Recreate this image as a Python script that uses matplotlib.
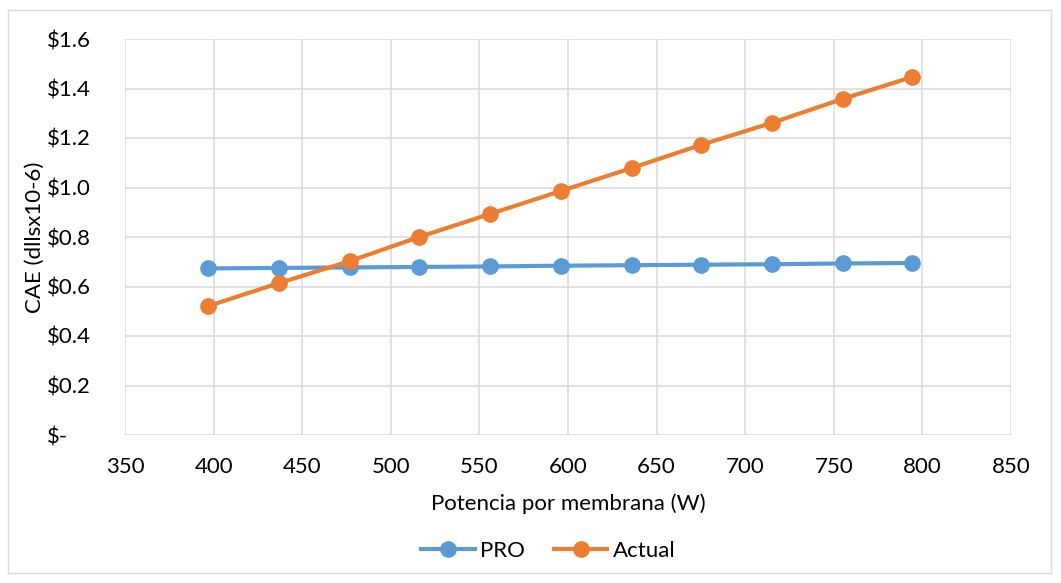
from matplotlib import pyplot as plt
from matplotlib.ticker import FuncFormatter
from matplotlib.patches import Rectangle

# datos
potencia = [397, 437, 477, 516, 556, 596, 636, 675, 715, 755, 794]
pro = [0.673, 0.675, 0.677, 0.679, 0.681, 0.684, 0.686, 0.688, 0.690, 0.693, 0.695]
actual = [0.521, 0.614, 0.703, 0.800, 0.893, 0.986, 1.079, 1.172, 1.261, 1.358, 1.446]
x_ticks = [350, 400, 450, 500, 550, 600, 650, 700, 750, 800, 850]
y_ticks = [0, 0.2, 0.4, 0.6, 0.8, 1.0, 1.2, 1.4, 1.6]

plt.rcParams['font.family'] = ['Lato', 'DejaVu Sans']
fs = 16

fig = plt.figure(figsize=(10.61, 5.83), dpi=100)
ax = fig.add_axes([125 / 1061, 148 / 583, 886 / 1061, 396 / 583])

# borde exterior del grafico
fig.patches.append(Rectangle((8 / 1061, 10 / 583), 1043 / 1061, 563 / 583,
                             transform=fig.transFigure, fill=False,
                             edgecolor='#D9D9D9', linewidth=1))

ax.plot(potencia, pro, color='#5B9BD5', linewidth=3, marker='o',
        markersize=11, label='PRO', zorder=3)
ax.plot(potencia, actual, color='#ED7D31', linewidth=3, marker='o',
        markersize=11, label='Actual', zorder=3)

ax.set_xlim(350, 850)
ax.set_ylim(0, 1.6)
ax.set_xticks(x_ticks)
ax.set_yticks(y_ticks)


def money(v, pos):
    if abs(v) < 1e-9:
        return '$-'
    return '$%.1f' % v


ax.yaxis.set_major_formatter(FuncFormatter(money))
ax.grid(True, color='#D9D9D9', linewidth=1.1)
ax.set_axisbelow(True)
for s in ax.spines.values():
    s.set_visible(False)
ax.tick_params(axis='both', length=0, labelsize=fs, colors='black')
ax.tick_params(axis='x', pad=16)
ax.tick_params(axis='y', pad=56)
for lbl in ax.get_yticklabels():
    lbl.set_horizontalalignment('left')

ax.set_xlabel('Potencia por membrana (W)', fontsize=fs, labelpad=12)
ax.set_ylabel('CAE (dllsx10-6)', fontsize=fs, labelpad=2)

ax.legend(loc='center', bbox_to_anchor=(0.478, -0.292), ncol=2,
          frameon=False, fontsize=fs, handlelength=2.4, columnspacing=1.3,
          handletextpad=0.25)

fig.savefig('out.png', dpi=100)
